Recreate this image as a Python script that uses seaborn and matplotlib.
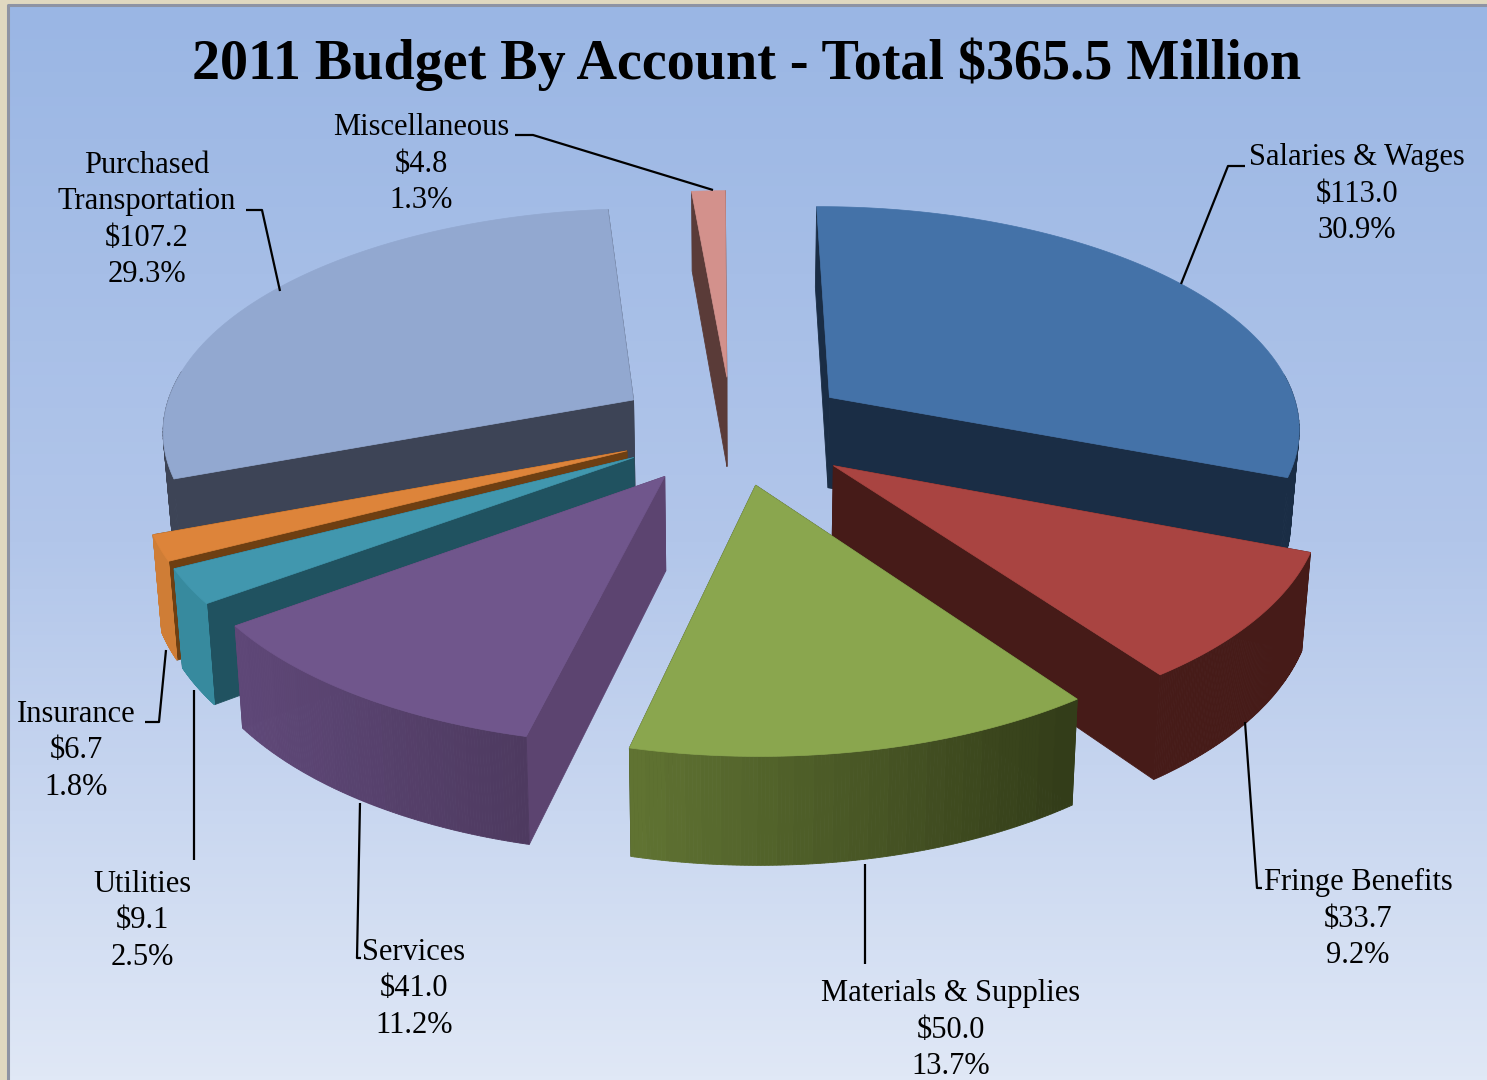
import numpy as np
import pandas as pd
import matplotlib
matplotlib.use("Agg")
import matplotlib.pyplot as plt
from matplotlib.patches import Polygon, Rectangle
import seaborn as sns

# Budget by account, millions of dollars
accounts = ["Salaries & Wages", "Fringe Benefits", "Materials & Supplies", "Services",
            "Utilities", "Insurance", "Purchased\nTransportation", "Miscellaneous"]
amounts = [113.0, 33.7, 50.0, 41.0, 9.1, 6.7, 107.2, 4.8]
shares = [30.9, 9.2, 13.7, 11.2, 2.5, 1.8, 29.3, 1.3]

top_colors = ["#4472a8", "#a94441", "#8aa64e", "#70568c", "#4197ae", "#dd843a", "#92a8d0", "#d3918c"]
cut_colors = ["#1a2d45", "#461b18", "#35401b", "#5c4470", "#205260", "#6e3f12", "#3d4456", "#5a3b38"]
rim_left = ["#1a2d45", "#461b18", "#607332", "#5f4878", "#378a9e", "#cf7d36", "#3d4456", "#5a3b38"]
rim_right = ["#1a2d45", "#461b18", "#333d19", "#4e3a60", "#378a9e", "#cf7d36", "#3d4456", "#5a3b38"]
explode = [0.255, 0.265, 0.25, 0.25, 0.24, 0.24, 0.25, 0.24]
draw_order = [6, 7, 0, 5, 4, 1, 3, 2]

# Perspective camera for the tilted pie, in pixels
CX, CY, RX, RY, PERSP, DEPTH, TAPER = 732, 429, 473, 222, 0.125, 92, 0.015
ROTATION = -0.3


def project(u, v, z):
    s = 1 / (1 + PERSP * v)
    x = CX + RX * u * s * (1 - TAPER * (1 - z))
    y = CY - RY * v * s + (1 - z) * DEPTH * s
    return np.column_stack([x, y])


sns.set_theme(style="white")
plt.rcParams["font.family"] = ["Liberation Serif", "DejaVu Serif"]
fig = plt.figure(figsize=(14.87, 10.80), dpi=100)
ax = fig.add_axes([0, 0, 1, 1])
ax.set_xlim(0, 1487)
ax.set_ylim(1080, 0)
ax.axis("off")
sns.despine(ax=ax, left=True, bottom=True)

# Window chrome and sky-like backdrop
ax.add_patch(Rectangle((0, 0), 1487, 1080, color="#e0d8c0", zorder=0))
backdrop = sns.blend_palette(["#9ab6e4", "#b2c6ea", "#e0e8f6"], as_cmap=True)
ax.imshow(np.linspace(0, 1, 256)[:, None], cmap=backdrop, aspect="auto",
          extent=(8, 1487, 1080, 5), zorder=1)
ax.plot([8, 8, 1487], [1080, 5, 5], color="#8e93a3", lw=2.2, zorder=2)
ax.set_xlim(0, 1487)
ax.set_ylim(1080, 0)

budget = pd.DataFrame({"account": accounts, "amount": amounts, "share": shares})
edges = np.concatenate([[0], np.cumsum(budget["amount"]) / budget["amount"].sum() * 360]) + ROTATION

z = 10
for i in draw_order:
    a0, a1 = np.radians(edges[i]), np.radians(edges[i + 1])
    mid = (a0 + a1) / 2
    ou, ov = explode[i] * np.sin(mid), explode[i] * np.cos(mid)
    th = np.linspace(a0, a1, 120)
    u, v = ou + np.sin(th), ov + np.cos(th)
    au, av = np.array([ou]), np.array([ov])

    # Cut faces through the pie axis
    for end in (0, -1):
        quad = np.vstack([project(au, av, 1), project(u[[end]], v[[end]], 1),
                          project(u[[end]], v[[end]], 0), project(au, av, 0)])
        ax.add_patch(Polygon(quad, closed=True, fc=cut_colors[i], ec=cut_colors[i], lw=0.6, zorder=z))
        z += 1

    # Curved rim, shaded across its width
    ramp = sns.blend_palette([rim_left[i], rim_right[i]], n_colors=24)
    top, bottom = project(u, v, 1), project(u, v, 0)
    xs = np.sort(top[:, 0])
    for j in range(len(th) - 1):
        if np.cos(th[j]) > 0.12:
            continue
        frac = (top[j, 0] - xs[0]) / max(xs[-1] - xs[0], 1)
        col = ramp[int(np.clip(frac, 0, 0.999) * 24)]
        strip = np.vstack([top[j], top[j + 1], bottom[j + 1], bottom[j]])
        ax.add_patch(Polygon(strip, closed=True, fc=col, ec=col, lw=0.6, zorder=z))
    z += 1

    # Upper face
    face = np.vstack([project(au, av, 1), top])
    ax.add_patch(Polygon(face, closed=True, fc=top_colors[i], ec=top_colors[i], lw=0.5, zorder=z))
    z += 1

ax.text(747, 64, "2011 Budget By Account - Total $365.5 Million", ha="center", va="center",
        fontsize=40.4, fontweight="bold", color="black", zorder=200)

# Label anchors and the leader lines tying them to their slices
label_anchor = {0: (1357, 194), 1: (1358, 919), 2: (951, 1030), 3: (414, 989),
                4: (142, 921), 5: (76, 751), 6: (147, 220), 7: (421, 164)}
leaders = {0: ([1245, 1228, 1181], [166, 166, 284]),
           1: ([1245, 1257, 1262], [722, 888, 888]),
           2: ([865, 865], [864, 964]),
           3: ([360, 357, 361], [803, 958, 958]),
           4: ([194, 194], [690, 860]),
           5: ([166, 159, 145], [650, 722, 722]),
           6: ([280, 262, 246], [291, 210, 210]),
           7: ([515, 533, 713], [135, 135, 190])}
for i, row in budget.iterrows():
    tx, ty = label_anchor[i]
    label = f"{row['account']}\n${row['amount']:.1f}\n{row['share']:.1f}%"
    ax.text(tx, ty, label, ha="center", va="center", fontsize=22,
            color="black", linespacing=1.33, zorder=200)
    lx, ly = leaders[i]
    ax.plot(lx, ly, color="black", lw=1.6, zorder=190, solid_capstyle="butt")

fig.savefig("out.png", dpi=100)
